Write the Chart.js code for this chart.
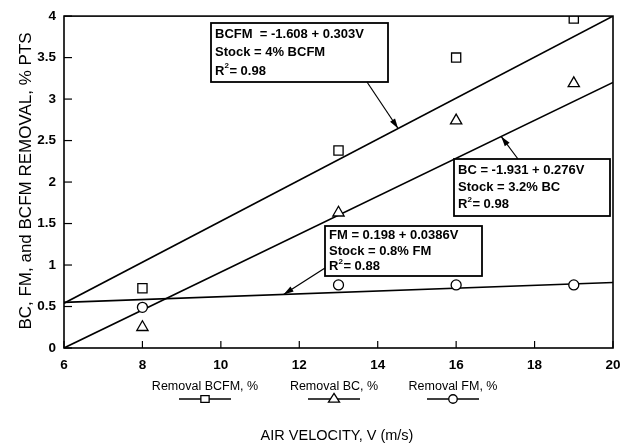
<!DOCTYPE html>
<html>
<head>
<meta charset="utf-8">
<script src="https://cdn.jsdelivr.net/npm/chart.js@4.4.1/dist/chart.umd.min.js"></script>
<style>
  body { margin: 0; background: #fff; }
  #wrap { width: 630px; height: 447px; position: relative; }
</style>
</head>
<body>
<div id="wrap"><canvas id="chartRemoval"></canvas></div>
<script>
// measured removal at each air velocity
const velocity = [8, 13, 16, 19];
const bcfmRemoval = [0.72, 2.38, 3.5, 3.97];
const bcRemoval = [0.25, 1.63, 2.74, 3.19];
const fmRemoval = [0.49, 0.76, 0.76, 0.76];

// fitted lines, drawn across the whole velocity range
const fitVelocity = [6, 20];
const bcfmFit = [0.54, 4.0];
const bcFit = [0.0, 3.2];
const fmFit = [0.55, 0.79];

const seriesNames = ["Removal BCFM, %", "Removal BC, %", "Removal FM, %"];
const xTitle = "AIR VELOCITY, V (m/s)";
const yTitle = "BC, FM, and BCFM REMOVAL, % PTS";

// regression notes: text lines and the velocity where the arrow hits the line
const notes = [
  { lines: ["BCFM  = -1.608 + 0.303V", "Stock = 4% BCFM", "0.98"], arrowAt: 14.52, fit: bcfmFit },
  { lines: ["BC = -1.931 + 0.276V", "Stock = 3.2% BC", "0.98"], arrowAt: 17.15, fit: bcFit },
  { lines: ["FM = 0.198 + 0.0386V", "Stock = 0.8% FM", "0.88"], arrowAt: 11.6, fit: fmFit }
];

function pts(xs, ys) {
  return xs.map(function (x, i) { return { x: x, y: ys[i] }; });
}

function fitAt(fit, v) {
  return fit[0] + (fit[1] - fit[0]) * (v - fitVelocity[0]) / (fitVelocity[1] - fitVelocity[0]);
}

const markerStyle = [
  { pointStyle: "rect", radius: 6.5 },
  { pointStyle: "triangle", radius: 6.5 },
  { pointStyle: "circle", radius: 5 }
];

function pointSet(data, i) {
  return {
    label: seriesNames[i],
    data: data,
    showLine: false,
    pointStyle: markerStyle[i].pointStyle,
    pointRadius: markerStyle[i].radius,
    pointBorderColor: "#000",
    pointBackgroundColor: "#fff",
    pointBorderWidth: 1.3
  };
}

function lineSet(data) {
  return {
    data: data,
    showLine: true,
    pointRadius: 0,
    borderColor: "#000",
    borderWidth: 1.6
  };
}

function arrow(ctx, x0, y0, x1, y1) {
  ctx.beginPath();
  ctx.moveTo(x0, y0);
  ctx.lineTo(x1, y1);
  ctx.stroke();
  const a = Math.atan2(y1 - y0, x1 - x0);
  ctx.beginPath();
  ctx.moveTo(x1, y1);
  ctx.lineTo(x1 - 10 * Math.cos(a) + 3 * Math.sin(a), y1 - 10 * Math.sin(a) - 3 * Math.cos(a));
  ctx.lineTo(x1 - 10 * Math.cos(a) - 3 * Math.sin(a), y1 - 10 * Math.sin(a) + 3 * Math.cos(a));
  ctx.closePath();
  ctx.fill();
}

// frame, inward ticks, notes, legend and axis titles
const decorations = {
  id: "decorations",
  afterDraw: function (chart) {
    const ctx = chart.ctx;
    const area = chart.chartArea;
    const xs = chart.scales.x;
    const ys = chart.scales.y;
    ctx.save();
    ctx.strokeStyle = "#000";
    ctx.fillStyle = "#000";
    ctx.lineWidth = 1.6;
    ctx.strokeRect(area.left, area.top, area.right - area.left, area.bottom - area.top);

    ctx.lineWidth = 1.2;
    xs.ticks.forEach(function (t) {
      const px = xs.getPixelForValue(t.value);
      ctx.beginPath();
      ctx.moveTo(px, area.bottom);
      ctx.lineTo(px, area.bottom - 7);
      ctx.stroke();
    });
    ys.ticks.forEach(function (t) {
      const py = ys.getPixelForValue(t.value);
      ctx.beginPath();
      ctx.moveTo(area.left, py);
      ctx.lineTo(area.left + 8, py);
      ctx.stroke();
    });

    // note boxes
    const boxes = [
      { l: 211, t: 23, r: 388, b: 82, gap: 18.5, from: [367, 82] },
      { l: 454, t: 159, r: 610, b: 216, gap: 17, from: [518, 159] },
      { l: 325, t: 226, r: 482, b: 276, gap: 15.5, from: [325, 268] }
    ];
    ctx.textBaseline = "middle";
    ctx.textAlign = "left";
    boxes.forEach(function (b, i) {
      const n = notes[i];
      ctx.fillStyle = "#fff";
      ctx.fillRect(b.l, b.t, b.r - b.l, b.b - b.t);
      ctx.fillStyle = "#000";
      ctx.lineWidth = 1.8;
      ctx.strokeRect(b.l, b.t, b.r - b.l, b.b - b.t);
      const tx = b.l + 4;
      const mid = (b.t + b.b) / 2;
      ctx.font = "bold 13px 'Liberation Sans', Arial, sans-serif";
      ctx.fillText(n.lines[0], tx, mid - b.gap);
      ctx.fillText(n.lines[1], tx, mid);
      ctx.fillText("R", tx, mid + b.gap);
      const rw = ctx.measureText("R").width;
      ctx.font = "bold 8px 'Liberation Sans', Arial, sans-serif";
      ctx.fillText("2", tx + rw, mid + b.gap - 5);
      ctx.font = "bold 13px 'Liberation Sans', Arial, sans-serif";
      ctx.fillText("= " + n.lines[2], tx + rw + 5, mid + b.gap);
      ctx.lineWidth = 1.2;
      arrow(ctx, b.from[0], b.from[1], xs.getPixelForValue(n.arrowAt), ys.getPixelForValue(fitAt(n.fit, n.arrowAt)));
    });

    // legend under the axis: name above a short line with the marker
    const centers = [205, 334, 453];
    ctx.font = "12.5px 'Liberation Sans', Arial, sans-serif";
    ctx.textAlign = "center";
    centers.forEach(function (cx, i) {
      ctx.fillStyle = "#000";
      ctx.fillText(seriesNames[i], cx, 387);
      ctx.lineWidth = 1.3;
      ctx.beginPath();
      ctx.moveTo(cx - 26, 399);
      ctx.lineTo(cx + 26, 399);
      ctx.stroke();
      ctx.fillStyle = "#fff";
      const size = markerStyle[i].radius * 0.85;
      ctx.beginPath();
      if (i === 0) {
        ctx.rect(cx - size * 0.75, 399 - size * 0.6, size * 1.5, size * 1.2);
      } else if (i === 1) {
        ctx.moveTo(cx, 399 - size);
        ctx.lineTo(cx + size, 399 + size * 0.55);
        ctx.lineTo(cx - size, 399 + size * 0.55);
        ctx.closePath();
      } else {
        ctx.arc(cx, 399, size, 0, Math.PI * 2);
      }
      ctx.fill();
      ctx.stroke();
    });

    ctx.fillStyle = "#000";
    ctx.font = "14.5px 'Liberation Sans', Arial, sans-serif";
    ctx.fillText(xTitle, 337, 436);

    ctx.translate(26, 181);
    ctx.rotate(-Math.PI / 2);
    ctx.font = "17px 'Liberation Sans', Arial, sans-serif";
    ctx.fillText(yTitle, 0, 0);
    ctx.restore();
  }
};

const tickFont = { family: "'Liberation Sans', Arial, sans-serif", size: 13.5, weight: "bold" };

const ctxRemoval = document.getElementById("chartRemoval").getContext("2d");
new Chart(ctxRemoval, {
  type: "scatter",
  data: {
    datasets: [
      pointSet(pts(velocity, bcfmRemoval), 0),
      pointSet(pts(velocity, bcRemoval), 1),
      pointSet(pts(velocity, fmRemoval), 2),
      lineSet(pts(fitVelocity, bcfmFit)),
      lineSet(pts(fitVelocity, bcFit)),
      lineSet(pts(fitVelocity, fmFit))
    ]
  },
  options: {
    responsive: true,
    maintainAspectRatio: false,
    animation: false,
    layout: { padding: { left: 0, right: 17, top: 12, bottom: 0 } },
    plugins: { legend: { display: false }, tooltip: { enabled: false } },
    scales: {
      x: {
        type: "linear",
        min: 6,
        max: 20,
        afterFit: function (s) { s.height = 99; },
        grid: { display: false, drawTicks: false },
        border: { display: false },
        ticks: { stepSize: 2, padding: 9, color: "#000", font: tickFont }
      },
      y: {
        min: 0,
        max: 4,
        afterFit: function (s) { s.width = 64; },
        grid: { display: false, drawTicks: false },
        border: { display: false },
        ticks: {
          stepSize: 0.5,
          padding: 8,
          color: "#000",
          font: tickFont,
          callback: function (v) { return String(v); }
        }
      }
    }
  },
  plugins: [decorations]
});
</script>
</body>
</html>
